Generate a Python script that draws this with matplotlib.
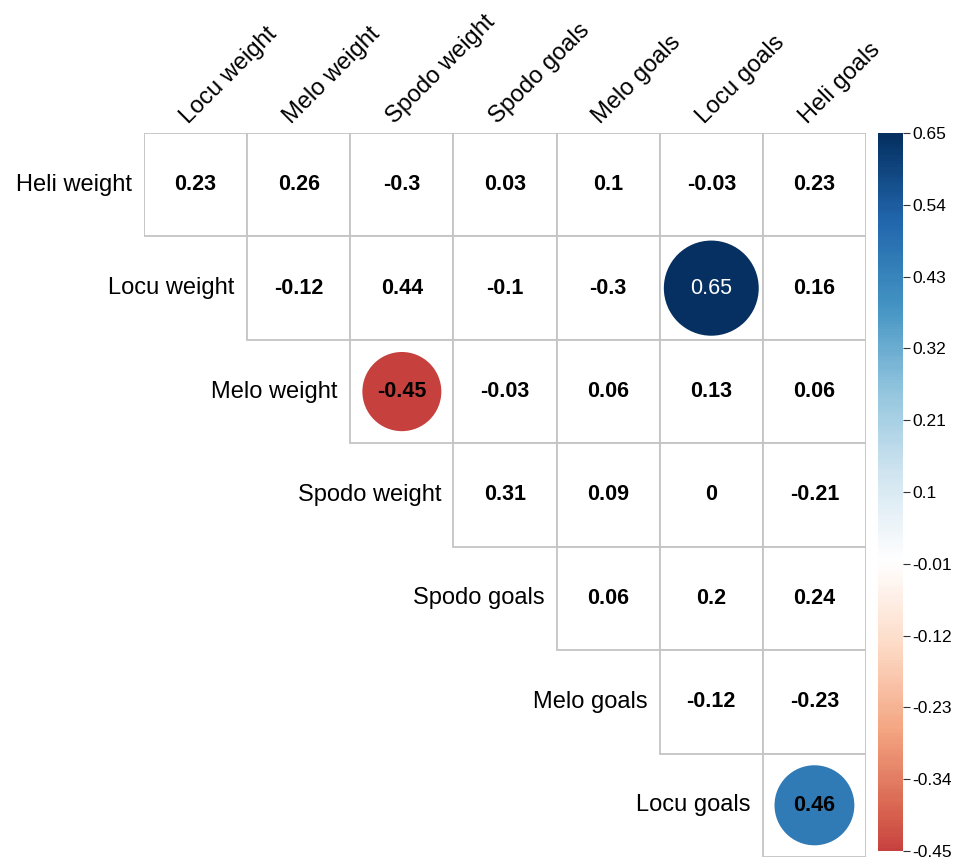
import numpy as np
import matplotlib
matplotlib.use("Agg")
import matplotlib.pyplot as plt
from matplotlib.colors import LinearSegmentedColormap, Normalize
from matplotlib.patches import Rectangle, Circle

row_labels = ["Heli weight", "Locu weight", "Melo weight", "Spodo weight",
              "Spodo goals", "Melo goals", "Locu goals"]
col_labels = ["Locu weight", "Melo weight", "Spodo weight", "Spodo goals",
              "Melo goals", "Locu goals", "Heli goals"]
# upper-triangle values, row i starts at column i
values = [
    [0.23, 0.26, -0.3, 0.03, 0.1, -0.03, 0.23],
    [-0.12, 0.44, -0.1, -0.3, 0.65, 0.16],
    [-0.45, -0.03, 0.06, 0.13, 0.06],
    [0.31, 0.09, 0, -0.21],
    [0.06, 0.2, 0.24],
    [-0.12, -0.23],
    [0.46],
]
# significant cells drawn as circles: (row, col)
significant = [(1, 5), (2, 2), (6, 6)]
cbar_ticks = [-0.45, -0.34, -0.23, -0.12, -0.01, 0.1, 0.21, 0.32, 0.43, 0.54, 0.65]
vmin, vmax = -0.45, 0.65

plt.rcParams['font.family'] = ['Liberation Sans', 'DejaVu Sans']

rdbu = ["#67001F", "#B2182B", "#D6604D", "#F4A582", "#FDDBC7", "#FFFFFF",
        "#D1E5F0", "#92C5DE", "#4393C3", "#2166AC", "#053061"]
base = LinearSegmentedColormap.from_list('rdbu', rdbu)
cmap = LinearSegmentedColormap.from_list('rb', base(np.linspace(0.16, 1.0, 256)))
norm = Normalize(vmin, vmax)

W, H = 957, 864
fig = plt.figure(figsize=(W / 100, H / 100), dpi=100)
ax = fig.add_axes([144 / W, 1 - 857 / H, (866 - 144) / W, (857 - 133) / H])
n = len(col_labels)
ax.set_xlim(0, n)
ax.set_ylim(n, 0)
ax.axis('off')

for i, row in enumerate(values):
    for k, v in enumerate(row):
        j = i + k
        ax.add_patch(Rectangle((j, i), 1, 1, facecolor='white',
                               edgecolor='#c4c4c4', linewidth=1.3, zorder=1))
        txtcol = 'black'
        weight = 'bold'
        if (i, j) in significant:
            r = 0.46 * np.sqrt(abs(v) / 0.65)
            ax.add_patch(Circle((j + 0.5, i + 0.5), r, facecolor=cmap(norm(v)),
                                edgecolor='none', zorder=2))
            if abs(v) > 0.6:
                txtcol = 'white'
                weight = 'normal'
        ax.text(j + 0.5, i + 0.5, f"{v:g}", ha='center', va='center',
                fontsize=15.5, fontweight=weight, color=txtcol, zorder=3)
    ax.text(i - 0.12, i + 0.5, row_labels[i], ha='right', va='center',
            fontsize=17)

for j, lab in enumerate(col_labels):
    ax.text(j + 0.43, -0.08, lab, ha='left', va='baseline', rotation=45,
            rotation_mode='anchor', fontsize=17)

cax = fig.add_axes([878 / W, 1 - 851 / H, (903 - 878) / W, (851 - 133) / H])
sm = plt.cm.ScalarMappable(norm=norm, cmap=cmap)
cb = fig.colorbar(sm, cax=cax, ticks=cbar_ticks)
cb.outline.set_visible(False)
cb.ax.set_yticklabels([f"{t:g}" for t in cbar_ticks])
cb.ax.tick_params(labelsize=12.5, length=5, width=0.8, color='#333333', pad=2)

fig.savefig('out.png', dpi=100)
